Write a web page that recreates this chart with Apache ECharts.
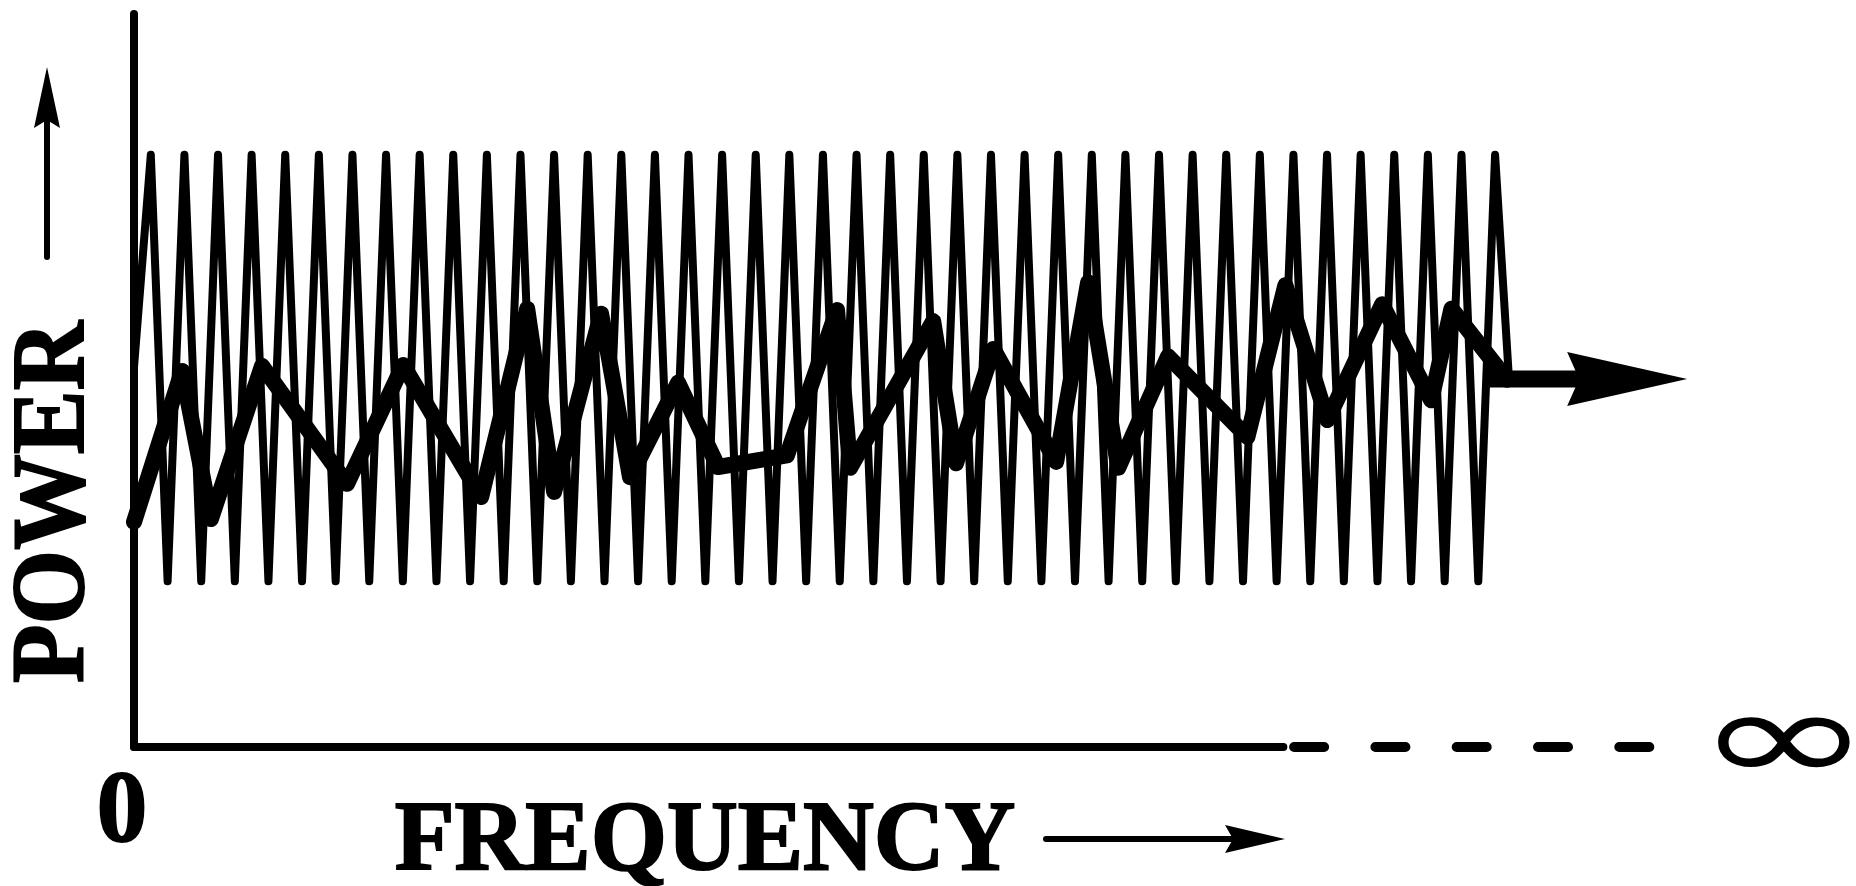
<!DOCTYPE html>
<html>
<head>
<meta charset="utf-8">
<title>Power vs Frequency</title>
<script src="https://cdn.jsdelivr.net/npm/echarts@6/dist/echarts.min.js"></script>
<style>
  html, body { margin: 0; padding: 0; background: #ffffff; }
  #chart { width: 1856px; height: 886px; }
</style>
</head>
<body>
<div id="chart"></div>
<script>
// Frequency in units of one oscillation period; power on a 0-100 scale.

// Fast oscillation: start, then alternating crests and troughs, then end point
const zigFreq = [
  0,
  0.5, 1, 1.5, 2, 2.5, 3, 3.5, 4, 4.5, 5,
  5.5, 6, 6.5, 7, 7.5, 8, 8.5, 9, 9.5, 10,
  10.5, 11, 11.5, 12, 12.5, 13, 13.5, 14, 14.5, 15,
  15.5, 16, 16.5, 17, 17.5, 18, 18.5, 19, 19.5, 20,
  20.5, 21, 21.5, 22, 22.5, 23, 23.5, 24, 24.5, 25,
  25.5, 26, 26.5, 27, 27.5, 28, 28.5, 29, 29.5, 30,
  30.5, 31, 31.5, 32, 32.5, 33, 33.5, 34, 34.5, 35,
  35.5, 36, 36.5, 37, 37.5, 38, 38.5, 39, 39.5, 40,
  40.5,
  40.92
];
const zigPower = [
  51.8,
  80.8, 22.6, 80.8, 22.6, 80.8, 22.6, 80.8, 22.6, 80.8, 22.6,
  80.8, 22.6, 80.8, 22.6, 80.8, 22.6, 80.8, 22.6, 80.8, 22.6,
  80.8, 22.6, 80.8, 22.6, 80.8, 22.6, 80.8, 22.6, 80.8, 22.6,
  80.8, 22.6, 80.8, 22.6, 80.8, 22.6, 80.8, 22.6, 80.8, 22.6,
  80.8, 22.6, 80.8, 22.6, 80.8, 22.6, 80.8, 22.6, 80.8, 22.6,
  80.8, 22.6, 80.8, 22.6, 80.8, 22.6, 80.8, 22.6, 80.8, 22.6,
  80.8, 22.6, 80.8, 22.6, 80.8, 22.6, 80.8, 22.6, 80.8, 22.6,
  80.8, 22.6, 80.8, 22.6, 80.8, 22.6, 80.8, 22.6, 80.8, 22.6,
  80.8,
  49.7
];

// Slow irregular trace drawn with a heavy stroke
const envFreq = [
  0, 1.43, 2.29, 3.81, 6.34, 8.01, 10.33, 11.70, 12.50, 13.90,
  14.76, 16.19, 17.38, 19.43, 20.92, 21.31, 23.78, 24.46, 25.57, 27.44,
  28.39, 29.29, 30.77, 33.13, 34.26, 35.51, 37.14, 38.60, 39.20, 40.86
];
const envPower = [
  30.7, 51.3, 31.1, 52.0, 35.9, 52.1, 34.1, 59.8, 34.8, 59.1,
  36.8, 49.7, 38.2, 39.8, 59.6, 38.1, 58.1, 38.7, 54.3, 38.9,
  63.4, 38.1, 53.3, 42.3, 63.0, 44.6, 60.4, 47.3, 59.8, 50.1
];

// Outgoing arrow after the trace (start of shaft, centre of head)
const arrowFreq = [40.2, 44.43];
const arrowPower = [50.2, 50.2];

// Frequency axis: solid finite part, then dashed continuation towards infinity
const baseFreq = [0, 34.2];
const basePower = [0, 0];
const tailFreq = [34.52, 45.2];
const tailPower = [0, 0];

// Axis extents
const freqMax = 46.3;
const powerMax = 100;

// Texts
const xStartLabel = '0';
const xEndLabel = '\u221E';
const xName = 'FREQUENCY';
const yName = 'POWER';

function zip(xs, ys) {
  return xs.map(function (x, i) { return [x, ys[i]]; });
}

const INK = '#000000';
const SERIF = '"Liberation Serif", "DejaVu Serif", serif';
const arrowHead = 'path://M0,0 L120,27 L0,54 L12,27 Z';

const chart = echarts.init(document.getElementById('chart'), null, { renderer: 'canvas' });

const arrowData = zip(arrowFreq, arrowPower);
arrowData[1] = { value: arrowData[1], symbol: arrowHead, symbolSize: [120, 54] };

chart.setOption({
  backgroundColor: '#ffffff',
  animation: false,
  grid: {
    left: 134, right: 166, top: 14, bottom: 139,
    containLabel: false,
    outerBoundsMode: 'none'
  },
  xAxis: {
    type: 'value',
    min: 0,
    max: freqMax,
    axisLine: { show: false },
    axisTick: { show: false },
    splitLine: { show: false },
    axisLabel: {
      show: true,
      showMinLabel: true,
      showMaxLabel: false,
      formatter: function (v) { return v === 0 ? xStartLabel : ''; },
      color: INK,
      fontFamily: SERIF,
      fontWeight: 'bold',
      fontSize: 101,
      textBorderColor: INK,
      textBorderWidth: 2,
      margin: 17,
      padding: [0, 24, 0, 0]
    }
  },
  yAxis: {
    type: 'value',
    min: 0,
    max: powerMax,
    axisLine: { show: true, lineStyle: { color: INK, width: 8, cap: 'round' } },
    axisTick: { show: false },
    splitLine: { show: false },
    axisLabel: { show: false }
  },
  series: [
    {
      name: 'axis',
      type: 'line',
      data: zip(baseFreq, basePower),
      showSymbol: false,
      clip: false,
      lineStyle: { color: INK, width: 8, cap: 'round' }
    },
    {
      name: 'tail',
      type: 'line',
      data: zip(tailFreq, tailPower),
      showSymbol: false,
      clip: false,
      lineStyle: { color: INK, width: 10, type: [30, 51.3], cap: 'round' }
    },
    {
      name: 'oscillation',
      type: 'line',
      data: zip(zigFreq, zigPower),
      showSymbol: false,
      clip: false,
      lineStyle: { color: INK, width: 8, join: 'round', cap: 'round' }
    },
    {
      name: 'trace',
      type: 'line',
      data: zip(envFreq, envPower),
      showSymbol: false,
      clip: false,
      lineStyle: { color: INK, width: 16, join: 'round', cap: 'round' }
    },
    {
      name: 'arrow',
      type: 'line',
      data: arrowData,
      symbol: 'none',
      showSymbol: true,
      clip: false,
      itemStyle: { color: INK },
      lineStyle: { color: INK, width: 17, cap: 'butt' }
    }
  ],
  graphic: [
    {
      type: 'text',
      x: 56, y: 502,
      rotation: Math.PI / 2,
      scaleX: 0.93,
      style: {
        text: yName,
        fill: INK,
        stroke: INK,
        lineWidth: 2,
        fontFamily: SERIF,
        fontWeight: 'bold',
        fontSize: 103,
        align: 'center',
        verticalAlign: 'middle'
      }
    },
    {
      type: 'line',
      shape: { x1: 47, y1: 257, x2: 47, y2: 118 },
      style: { stroke: INK, lineWidth: 6, lineCap: 'round' }
    },
    {
      type: 'polygon',
      shape: { points: [[47, 67], [60, 128], [47, 120], [34, 128]] },
      style: { fill: INK }
    },
    {
      type: 'text',
      x: 705, y: 843,
      scaleX: 0.98,
      style: {
        text: xName,
        fill: INK,
        stroke: INK,
        lineWidth: 2,
        fontFamily: SERIF,
        fontWeight: 'bold',
        fontSize: 100,
        align: 'center',
        verticalAlign: 'middle'
      }
    },
    {
      type: 'line',
      shape: { x1: 1046, y1: 839, x2: 1235, y2: 839 },
      style: { stroke: INK, lineWidth: 6, lineCap: 'round' }
    },
    {
      type: 'polygon',
      shape: { points: [[1285, 839], [1225, 825], [1233, 839], [1225, 853]] },
      style: { fill: INK }
    },
    {
      type: 'text',
      x: 1784, y: 747,
      scaleX: 1.52,
      scaleY: 0.95,
      style: {
        text: xEndLabel,
        fill: INK,
        fontFamily: '"DejaVu Sans", sans-serif',
        fontSize: 140,
        align: 'center',
        verticalAlign: 'middle'
      }
    }
  ]
});
</script>
</body>
</html>
